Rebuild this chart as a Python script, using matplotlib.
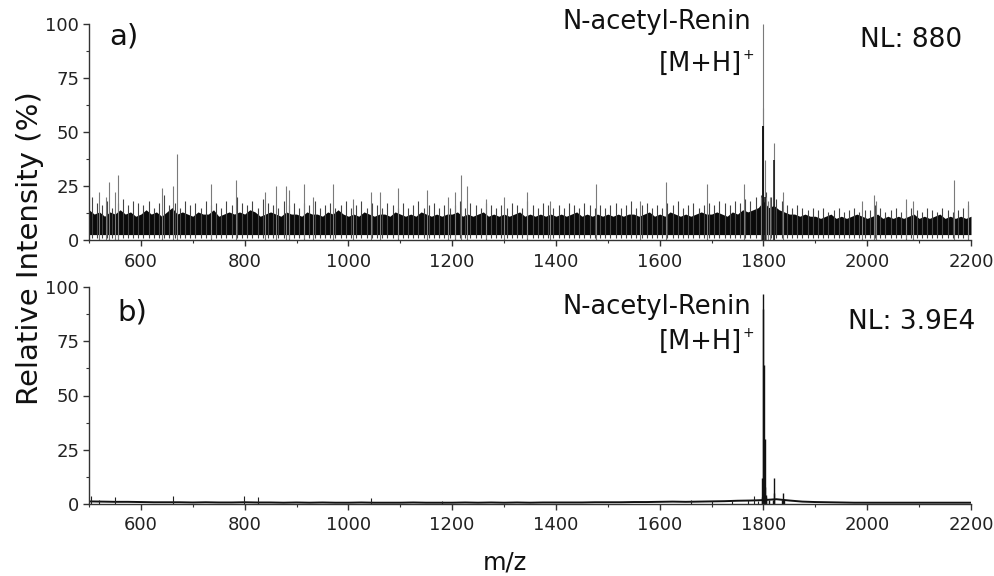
import numpy as np
import matplotlib
matplotlib.use("Agg")
import matplotlib.pyplot as plt
from matplotlib.ticker import MultipleLocator

plt.rcParams['font.family'] = ['DejaVu Sans']

# ---------------- data: panel a (NL 880, noisy) ----------------
core_mz = list(range(500, 2201, 10))
core_top = [14,12,13,11,13,12,14,12,13,11,
            12,14,12,13,11,13,15,12,13,12,
            11,13,12,12,14,11,12,13,12,13,
            12,14,13,11,12,13,12,11,13,12,
            12,11,13,12,12,11,13,12,14,12,
            11,12,11,13,12,11,12,12,11,13,
            12,11,12,11,13,12,11,12,11,12,
            12,13,11,12,11,12,13,11,12,11,
            12,11,12,13,11,12,11,12,11,12,
            11,12,11,12,13,11,12,11,12,11,
            12,11,12,11,12,12,11,12,13,11,
            12,11,13,12,11,12,11,12,13,12,
            12,13,12,11,13,12,14,13,14,15,
            18,15,16,14,13,12,12,11,12,11,
            11,10,11,12,10,11,10,11,12,11,
            10,11,12,10,11,10,11,10,11,12,
            10,11,10,11,12,10,11,10,11,10,
            11]
core_bottom = 2.5

fringe_mz = list(range(505, 2200, 10))
fringe_h = [20,17,16,18,15,17,19,16,18,17,
            16,18,15,17,21,16,17,15,18,16,
            17,15,18,16,17,15,18,16,20,17,
            16,18,15,19,17,16,15,18,16,17,
            15,17,16,18,15,16,17,15,16,18,
            15,16,18,15,17,16,15,17,16,15,
            17,15,16,18,15,16,17,15,16,15,
            16,18,15,17,16,15,17,16,15,16,
            15,17,16,15,18,16,15,17,16,15,
            16,15,17,16,15,17,16,15,16,15,
            16,17,15,16,18,15,16,17,15,16,
            15,17,16,18,15,16,17,15,16,17,
            16,18,17,16,18,17,19,18,20,21,
            22,20,19,18,16,15,16,15,14,15,
            14,15,13,14,15,13,14,15,13,14,
            14,16,15,13,14,15,13,14,15,14,
            13,15,14,13,15,14,13,14,15,16]

spike_a_mz = [520, 533, 538, 551, 556, 640, 662, 669, 736, 783, 839, 860, 880, 886,
              915, 932, 971, 1009, 1043, 1061, 1096, 1152, 1191, 1205, 1217, 1228,
              1266, 1300, 1344, 1389, 1478, 1562, 1613, 1691, 1762, 1795, 1805, 1808,
              1812, 1837, 1989, 2014, 2017, 2074, 2088, 2167, 2195]
spike_a_h = [22, 20, 27, 22, 30, 24, 25, 40, 26, 28, 22, 25, 25, 23,
             26, 20, 26, 19, 22, 22, 24, 23, 20, 22, 30, 25,
             19, 20, 22, 18, 26, 18, 27, 26, 26, 20, 20, 18,
             20, 22, 18, 21, 18, 19, 18, 28, 18]

peak_a_mz = [1799, 1799.5, 1803, 1820]
peak_a_h = [100, 61, 37, 45]
peak_a_black_h = [53, 53, 20, 37]

# ---------------- data: panel b (NL 3.9E4) ----------------
base_b_mz = list(range(500, 2201, 25))
base_b_h = [1.2, 1.1, 1.0, 1.0, 0.9, 0.8, 0.8, 0.8, 0.7, 0.8, 0.7, 0.7,   # 500-775
            0.8, 0.7, 0.7, 0.6, 0.7, 0.6, 0.7, 0.6, 0.6, 0.7, 0.6, 0.6,   # 800-1075
            0.6, 0.7, 0.6, 0.6, 0.6, 0.7, 0.6, 0.7, 0.6, 0.7, 0.6, 0.7,   # 1100-1375
            0.7, 0.7, 0.7, 0.8, 0.8, 0.8, 0.9, 0.9, 1.0, 1.1, 1.0, 1.1,   # 1400-1675
            1.2, 1.3, 1.5, 1.6, 1.8, 2.2, 1.6, 1.1, 0.9, 0.8, 0.7, 0.6,   # 1700-1975
            0.6, 0.6, 0.6, 0.6, 0.6, 0.6, 0.6, 0.6, 0.6]                  # 2000-2200
spike_b_mz = [504, 520, 550, 662, 799, 826, 1043, 1180, 1660, 1700, 1740, 1770, 1782, 1790]
spike_b_h = [3.5, 2.0, 3.0, 3.5, 3.8, 3.3, 2.7, 1.5, 1.8, 1.5, 1.8, 1.8, 3.5, 1.5]
peak_b_mz = [1797, 1798, 1799, 1800, 1801, 1802, 1803, 1804, 1805, 1810, 1818,
             1820, 1821, 1836, 1838, 1839]
peak_b_h = [3, 12, 90, 97, 64, 30, 8, 4, 3, 2, 2, 12, 5, 2, 5, 2]

xticks = [600, 800, 1000, 1200, 1400, 1600, 1800, 2000, 2200]
yticks = [0, 25, 50, 75, 100]

# ---------------- figure ----------------
W, H = 995, 576
fig = plt.figure(figsize=(W / 100, H / 100), dpi=100)

def px_axes(x0, y0, x1, y1):
    return fig.add_axes([x0 / W, 1 - y1 / H, (x1 - x0) / W, (y1 - y0) / H])

axa = px_axes(89, 24, 971, 240)
axb = px_axes(89, 287, 971, 504)

for ax in (axa, axb):
    ax.set_xlim(500, 2200)
    ax.set_ylim(0, 100)
    for s in ('top', 'right'):
        ax.spines[s].set_visible(False)
    for s in ('left', 'bottom'):
        ax.spines[s].set_color('#333333')
        ax.spines[s].set_linewidth(1.0)
    ax.set_xticks(xticks)
    ax.set_yticks(yticks)
    ax.xaxis.set_minor_locator(MultipleLocator(100))
    ax.yaxis.set_minor_locator(MultipleLocator(12.5))
    ax.tick_params(which='major', direction='out', length=4, width=1.0, color='#333333',
                   labelsize=13, labelcolor='#222222')
    ax.tick_params(which='minor', direction='out', length=2.5, width=0.8, color='#333333')
    ax.tick_params(axis='x', which='major', pad=5)
    ax.tick_params(axis='y', which='major', pad=3)

# panel a
axa.vlines(fringe_mz, 0.8, fringe_h, color='#444444', lw=0.8)
axa.fill_between(core_mz, core_bottom, core_top, color='#0a0a0a', lw=0)
axa.vlines(spike_a_mz, 0, spike_a_h, color='#7a7a7a', lw=0.8)
axa.vlines(peak_a_mz, 0, peak_a_h, color='#7a7a7a', lw=0.8)
axa.vlines(peak_a_mz, 0, peak_a_black_h, color='#111111', lw=1.1)

# panel b
axb.plot(base_b_mz, base_b_h, color='#111111', lw=1.4)
axb.vlines(spike_b_mz, 0, spike_b_h, color='#222222', lw=0.8)
axb.vlines(peak_b_mz, 0, peak_b_h, color='#111111', lw=1.0)

# text
def ftext(x, y, s, size, ha='left', va='center', **kw):
    fig.text(x / W, 1 - y / H, s, fontsize=size, ha=ha, va=va, color='#111111', **kw)

ftext(109, 37, 'a)', 21)
ftext(117, 312, 'b)', 21)
for yy1, yy2 in ((22, 64), (307, 342)):
    ftext(751, yy1, 'N-acetyl-Renin', 18.5, ha='right')
    ftext(742, yy2, '[M+H]', 18.5, ha='right')
    ftext(743, yy2 - 9, '+', 10, ha='left')
ftext(962, 40, 'NL: 880', 19, ha='right')
ftext(975, 322, 'NL: 3.9E4', 19, ha='right')
ftext(505, 563, 'm/z', 17.5, ha='center')
ftext(30, 248, 'Relative Intensity (%)', 21, ha='center', rotation=90)

fig.savefig('out.png', dpi=100)
